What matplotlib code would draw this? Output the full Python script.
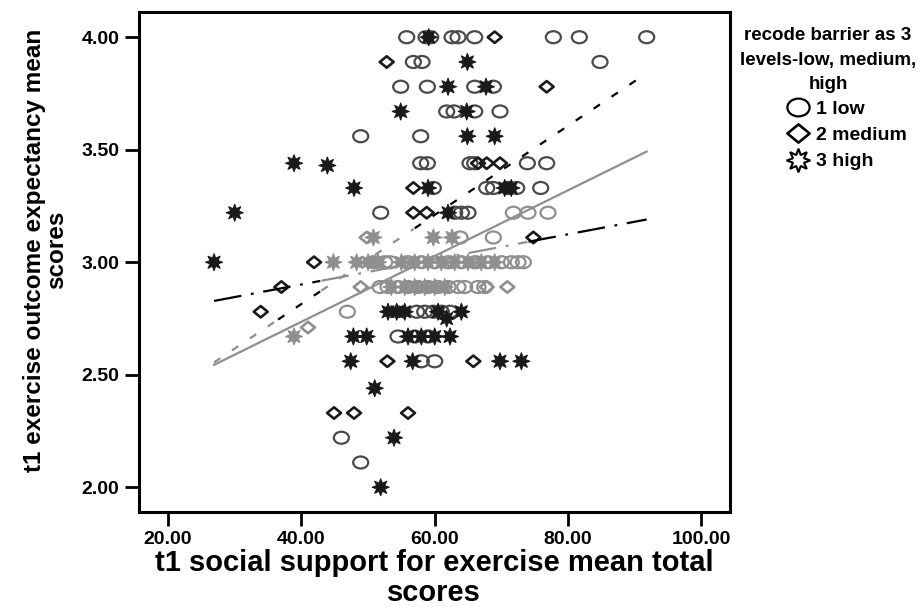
import numpy as np
import matplotlib
matplotlib.use("Agg")
import matplotlib.pyplot as plt
from matplotlib.path import Path
from matplotlib.lines import Line2D

plt.rcParams['font.family'] = ['Liberation Sans', 'DejaVu Sans']
plt.rcParams['font.weight'] = 'bold'
plt.rcParams['lines.scale_dashes'] = False

# ============================================================
# DATA
# (social support score, outcome expectancy score)
# ============================================================
low_points = [
    (55.8, 4.00), (58.7, 4.00), (59.4, 4.00), (62.6, 4.00), (63.5, 4.00),
    (66.0, 4.00), (77.8, 4.00), (81.7, 4.00), (91.8, 4.00),
    (56.8, 3.89), (58.1, 3.89), (84.8, 3.89),
    (54.9, 3.78), (58.9, 3.78), (66.0, 3.78), (68.8, 3.78),
    (61.8, 3.67), (62.9, 3.67), (66.0, 3.67), (69.8, 3.67),
    (48.9, 3.56), (57.9, 3.56),
    (57.9, 3.44), (58.9, 3.44), (65.3, 3.44), (66.0, 3.44), (73.9, 3.44), (76.8, 3.44),
    (59.8, 3.33), (67.8, 3.33), (68.8, 3.33), (71.0, 3.33), (72.3, 3.33), (75.9, 3.33),
    (51.9, 3.22), (63.0, 3.22), (64.0, 3.22), (65.0, 3.22), (71.8, 3.22), (74.0, 3.22), (77.0, 3.22),
    (63.8, 3.11), (68.8, 3.11),
    (50.8, 3.00), (52.5, 3.00), (53.3, 3.00), (56.0, 3.00), (58.0, 3.00), (60.0, 3.00),
    (62.0, 3.00), (64.0, 3.00), (66.0, 3.00), (68.0, 3.00), (70.0, 3.00), (71.5, 3.00),
    (72.5, 3.00), (73.3, 3.00),
    (51.8, 2.89), (53.0, 2.89), (54.5, 2.89), (56.0, 2.89), (57.5, 2.89), (59.0, 2.89),
    (60.5, 2.89), (62.0, 2.89), (63.5, 2.89), (64.5, 2.89), (66.5, 2.89), (67.5, 2.89),
    (46.9, 2.78), (57.3, 2.78), (58.5, 2.78), (59.8, 2.78), (61.0, 2.78), (62.3, 2.78),
    (54.5, 2.67), (57.0, 2.67), (59.0, 2.67),
    (58.0, 2.56), (60.0, 2.56),
    (46.0, 2.22),
    (48.9, 2.11),
]

medium_points = [
    (69.0, 4.00),
    (52.8, 3.89),
    (76.8, 3.78),
    (66.5, 3.44), (67.8, 3.44), (69.8, 3.44),
    (56.8, 3.33),
    (56.8, 3.22), (58.8, 3.22),
    (49.8, 3.11), (74.8, 3.11),
    (41.9, 3.00), (55.5, 3.00), (62.5, 3.00), (66.5, 3.00),
    (37.0, 2.89), (48.9, 2.89), (67.8, 2.89), (70.9, 2.89),
    (33.9, 2.78),
    (41.0, 2.71),
    (52.9, 2.56), (65.8, 2.56),
    (44.9, 2.33), (47.9, 2.33), (56.0, 2.33),
]

high_points = [
    (59.1, 4.00),
    (64.9, 3.89),
    (62.0, 3.78), (67.7, 3.78),
    (54.9, 3.67), (64.8, 3.67),
    (64.9, 3.56), (69.0, 3.56),
    (38.9, 3.44), (43.9, 3.43),
    (47.9, 3.33), (59.0, 3.33), (70.5, 3.33), (71.5, 3.33),
    (30.0, 3.22), (62.0, 3.22),
    (50.8, 3.11), (59.8, 3.11), (62.6, 3.11),
    (26.9, 3.00), (44.8, 3.00), (48.3, 3.00), (50.0, 3.00), (51.5, 3.00), (55.0, 3.00),
    (57.0, 3.00), (59.0, 3.00), (61.0, 3.00), (63.0, 3.00), (65.0, 3.00), (67.0, 3.00),
    (69.0, 3.00),
    (53.5, 2.89), (55.5, 2.89), (57.0, 2.89), (58.5, 2.89), (60.0, 2.89), (61.5, 2.89),
    (53.0, 2.78), (54.3, 2.78), (55.5, 2.78), (60.5, 2.78), (64.0, 2.78),
    (61.8, 2.75),
    (38.9, 2.67), (47.8, 2.67), (49.8, 2.67), (56.0, 2.67), (58.0, 2.67), (60.0, 2.67),
    (62.3, 2.67),
    (47.4, 2.56), (56.7, 2.56), (69.8, 2.56), (73.0, 2.56),
    (51.0, 2.44),
    (53.9, 2.22),
    (51.9, 2.00),
]

# fit lines, end points
fit_x = [26.9, 91.8]
fit_total_y = [2.544, 3.492]
fit_low_y = [2.555, 3.840]
fit_medium_y = [2.828, 3.190]

x_ticks = [20, 40, 60, 80, 100]
y_ticks = [2.0, 2.5, 3.0, 3.5, 4.0]
legend_labels = ["1 low", "2 medium", "3 high"]
legend_title = "recode barrier as 3\nlevels-low, medium,\nhigh"

DARK = "#1a1a1a"
CIRCLE = "#4a4a4a"
GRAY = "#8f8f8f"


def total_line(x):
    return np.interp(x, fit_x, fit_total_y)


def shade(x, y):
    # middle band of the chart (and anything on the total line) prints grey
    x = np.asarray(x)
    y = np.asarray(y)
    band = (y > 2.85) & (y < 3.15) & (x > 43) & (x < 74)
    near = np.abs(y - total_line(x)) < 0.06
    return band | near


# ============================================================
# MARKERS
# ============================================================
_c = Path.unit_circle()
ellipse = Path(_c.vertices * [1.0, 0.8], _c.codes)
diamond = Path([(-1, 0), (0, 0.82), (1, 0), (0, -0.82), (-1, 0)],
               [Path.MOVETO, Path.LINETO, Path.LINETO, Path.LINETO, Path.CLOSEPOLY])
star = (8, 1, 0)

# ============================================================
# FIGURE
# ============================================================
fig = plt.figure(figsize=(9.23, 6.07), dpi=100)
ax = fig.add_axes([0.1503, 0.1565, 0.6406, 0.8237])

lx, ly = np.array(low_points).T
mx, my = np.array(medium_points).T
hx, hy = np.array(high_points).T

ax.scatter(lx, ly, s=117, marker=ellipse, facecolors='none',
           edgecolors=np.where(shade(lx, ly), GRAY, CIRCLE), linewidths=1.6, zorder=3)
ax.scatter(mx, my, s=100, marker=diamond, facecolors='none',
           edgecolors=np.where(shade(mx, my), GRAY, DARK), linewidths=1.9, zorder=3)
hc = np.where(shade(hx, hy), GRAY, DARK)
ax.scatter(hx, hy, s=150, marker=star, facecolors=hc,
           edgecolors=hc, linewidths=0.8, zorder=3)

# ============================================================
# FIT LINES
# ============================================================
xs = np.linspace(fit_x[0], fit_x[1], 400)

ax.plot(xs, total_line(xs), color=GRAY, lw=1.6, zorder=4)

for fy, style in [(fit_low_y, (0, (5.5, 10))),
                  (fit_medium_y, (0, (20, 7, 2, 7)))]:
    ys = np.interp(xs, fit_x, fy)
    g = shade(xs, ys)
    ax.plot(xs, np.where(g, ys, np.nan), color=GRAY, lw=1.6, ls=style, zorder=4)
    ax.plot(xs, np.where(~g, ys, np.nan), color='black', lw=1.6, ls=style, zorder=4)

# ============================================================
# AXES
# ============================================================
ax.set_xlim(15.6, 104.3)
ax.set_ylim(1.89, 4.112)
ax.set_xticks(x_ticks)
ax.set_yticks(y_ticks)
ax.set_xticklabels([f"{v:.2f}" for v in x_ticks])
ax.set_yticklabels([f"{v:.2f}" for v in y_ticks])
ax.tick_params(direction='out', length=10, width=2, labelsize=14, pad=4)
for sp in ax.spines.values():
    sp.set_linewidth(2.2)

fig.text(434 / 923, 1 - 578 / 607,
         "t1 social support for exercise mean total\nscores",
         ha='center', va='center', fontsize=21, fontweight='bold', linespacing=1.06)
fig.text(46 / 923, 1 - 250 / 607,
         "t1 exercise outcome expectancy mean\nscores",
         ha='center', va='center', rotation=90, fontsize=17.5, fontweight='bold',
         linespacing=0.95)

# ============================================================
# LEGEND
# ============================================================
fig.text(828 / 923, 1 - 60 / 607, legend_title, ha='center', va='center',
         fontsize=13.5, fontweight='bold', linespacing=1.6)

handles = [
    Line2D([], [], ls='none', marker=ellipse, ms=16, mfc='none', mec='black', mew=1.6),
    Line2D([], [], ls='none', marker=diamond, ms=16, mfc='none', mec='black', mew=1.9),
    Line2D([], [], ls='none', marker=star, ms=17, mfc='white', mec='black', mew=1.5),
]
fig.legend(handles, legend_labels, loc='upper left',
           bbox_to_anchor=(785 / 923, 1 - 100 / 607),
           frameon=False, prop={'weight': 'bold', 'size': 14},
           handlelength=1.3, handletextpad=0.3, labelspacing=0.45,
           borderaxespad=0, borderpad=0)

fig.savefig("out.png", dpi=100, facecolor='white')
